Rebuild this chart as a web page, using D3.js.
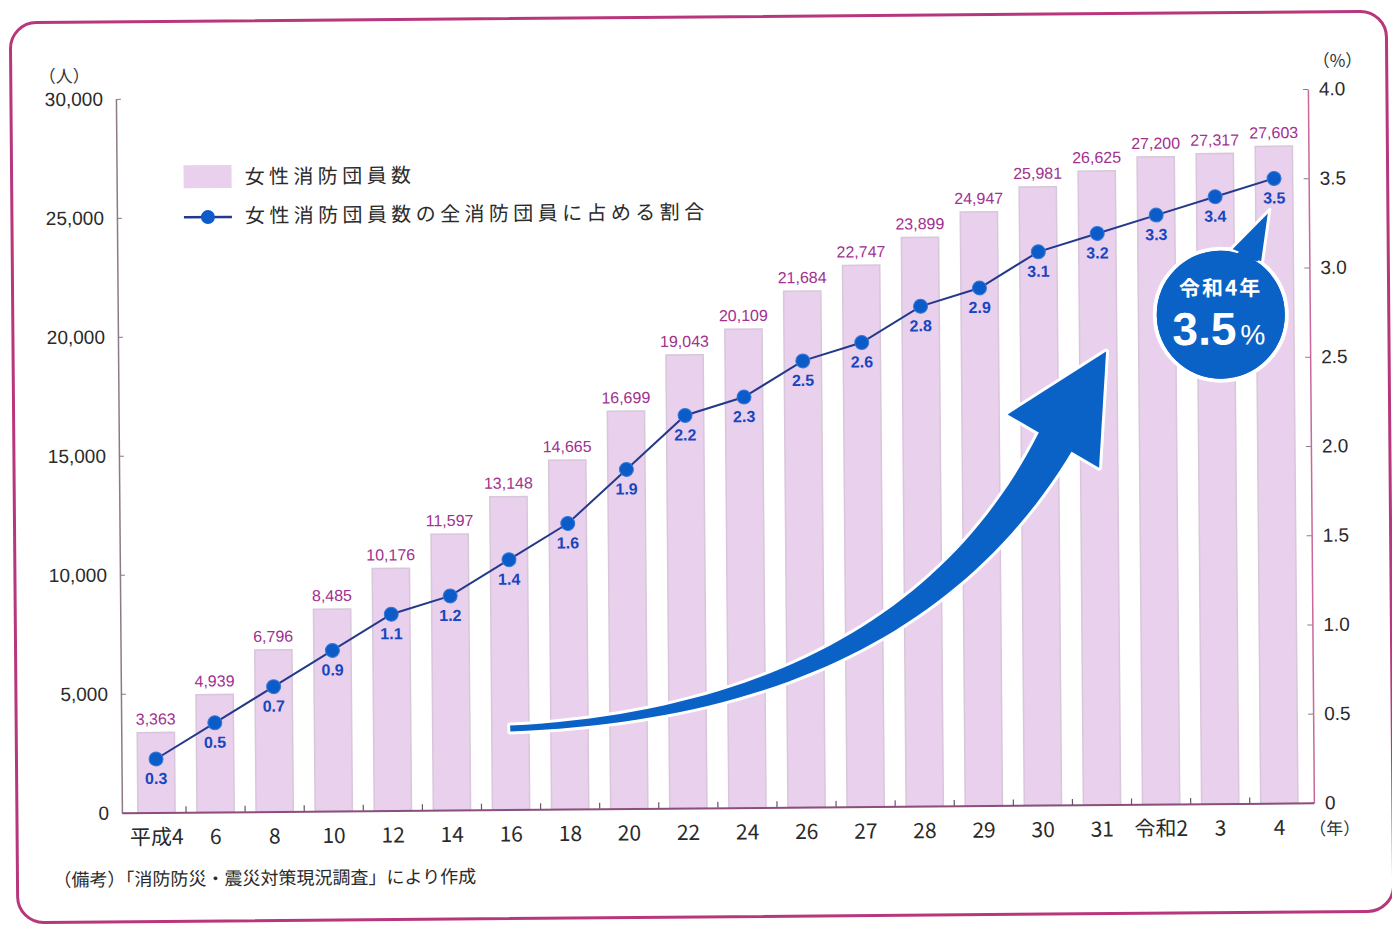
<!DOCTYPE html>
<html>
<head>
<meta charset="utf-8">
<script src="https://cdn.jsdelivr.net/npm/d3@7"></script>
<style>
  body { margin: 0; background: #fff; }
  svg text { font-family: "Liberation Sans", Arial, sans-serif; }
  .jp { font-family: "Noto Sans CJK JP", "Noto Sans", sans-serif; }
</style>
</head>
<body>
<svg id="chart" width="1392" height="925"></svg>
<script>
// data
var years = ["平成4", "6", "8", "10", "12", "14", "16", "18", "20", "22",
             "24", "26", "27", "28", "29", "30", "31", "令和2", "3", "4"];
var members = [3363, 4939, 6796, 8485, 10176, 11597, 13148, 14665, 16699, 19043,
               20109, 21684, 22747, 23899, 24947, 25981, 26625, 27200, 27317, 27603];
var shares = [0.3, 0.5, 0.7, 0.9, 1.1, 1.2, 1.4, 1.6, 1.9, 2.2,
              2.3, 2.5, 2.6, 2.8, 2.9, 3.1, 3.2, 3.3, 3.4, 3.5];
var leftTicks = [0, 5000, 10000, 15000, 20000, 25000, 30000];
var rightTicks = [0, 0.5, 1, 1.5, 2, 2.5, 3, 3.5, 4];
var legendLabels = ["女性消防団員数", "女性消防団員数の全消防団員に占める割合"];

var rows = years.map(function (y, i) {
    return { year: y, members: members[i], share: shares[i] };
});

var svg = d3.select("#chart")
  , plot = { left: 119, right: 1311, top: 94, bottom: 808 }
  , colors = {
        bar: "#e9d0ec", barEdge: "#d8c6da", value: "#a2318f",
        line: "#24398c", dot: "#0b5cc8", share: "#1746bf",
        blue: "#0b62c6", frame: "#b8377c"
    }
;

// the scan is tilted a little, draw everything inside a rotated group
var page = svg.append("g").attr("transform", "rotate(-0.48 700 462)");

page.append("rect")
    .attr("x", 14).attr("y", 17)
    .attr("width", 1376).attr("height", 900)
    .attr("rx", 26)
    .attr("fill", "none")
    .attr("stroke", colors.frame)
    .attr("stroke-width", 3);

var x = d3.scaleBand()
    .domain(years)
    .range([plot.left, plot.right])
    .paddingInner(0.37)
    .paddingOuter(0.27);

var yLeft = d3.scaleLinear().domain([0, 30000]).range([plot.bottom, plot.top]);
var yRight = d3.scaleLinear().domain([0, 4]).range([plot.bottom, plot.top]);

// bars
page.append("g")
  .selectAll("rect")
  .data(rows)
  .join("rect")
    .attr("x", function (d) { return x(d.year); })
    .attr("y", function (d) { return yLeft(d.members); })
    .attr("width", x.bandwidth())
    .attr("height", function (d) { return yLeft(0) - yLeft(d.members); })
    .attr("fill", colors.bar)
    .attr("stroke", colors.barEdge)
    .attr("stroke-width", 1.5);

page.append("g")
  .selectAll("text")
  .data(rows)
  .join("text")
    .attr("x", function (d) { return x(d.year) + x.bandwidth() / 2; })
    .attr("y", function (d) { return yLeft(d.members) - 8; })
    .attr("text-anchor", "middle")
    .attr("font-size", 16)
    .attr("fill", colors.value)
    .text(function (d) { return d3.format(",")(d.members); });

// axes
var fmtLeft = d3.format(",");
var leftAxis = page.append("g")
    .attr("transform", "translate(" + plot.left + ",0)")
    .call(d3.axisLeft(yLeft).tickValues(leftTicks).tickFormat(fmtLeft)
        .tickSizeInner(-5).tickSizeOuter(0).tickPadding(13));
leftAxis.select(".domain").attr("stroke", "#8d7a88").attr("stroke-width", 1.5);
leftAxis.selectAll(".tick line").attr("stroke", "#8d7a88");
leftAxis.selectAll(".tick text").attr("font-size", 19).attr("fill", "#2a2a2a")
    .attr("font-family", "Liberation Sans, Arial, sans-serif");

var rightAxis = page.append("g")
    .attr("transform", "translate(" + plot.right + ",0)")
    .call(d3.axisRight(yRight).tickValues(rightTicks)
        .tickFormat(function (d) { return d === 0 ? "0" : d3.format(".1f")(d); })
        .tickSizeInner(-5).tickSizeOuter(0).tickPadding(11));
rightAxis.select(".domain").attr("stroke", "#c9689d").attr("stroke-width", 1.5);
rightAxis.selectAll(".tick line").attr("stroke", "#8d7a88");
rightAxis.selectAll(".tick text").attr("font-size", 19).attr("fill", "#2a2a2a")
    .attr("font-family", "Liberation Sans, Arial, sans-serif");

var bottomAxis = page.append("g")
    .attr("transform", "translate(0," + plot.bottom + ")")
    .call(d3.axisBottom(x).tickSize(0).tickPadding(17));
bottomAxis.select(".domain").attr("stroke", "#8a4f7c").attr("stroke-width", 2);
bottomAxis.selectAll(".tick text")
    .attr("class", "jp")
    .attr("font-size", 21)
    .attr("fill", "#2a2a2a");

// small upward ticks between the bars
var gap = x.step() * x.paddingInner() / 2;
page.append("g")
  .selectAll("line")
  .data(years.slice(1))
  .join("line")
    .attr("x1", function (d) { return x(d) - gap; })
    .attr("x2", function (d) { return x(d) - gap; })
    .attr("y1", plot.bottom)
    .attr("y2", plot.bottom - 6)
    .attr("stroke", "#6e5268")
    .attr("stroke-width", 1.2);

// unit labels
page.append("text").attr("class", "jp").attr("x", 42).attr("y", 77)
    .attr("font-size", 17).attr("fill", "#333").text("（人）");
page.append("text").attr("class", "jp").attr("x", 1316).attr("y", 72)
    .attr("font-size", 17).attr("fill", "#333").text("（%）");
page.append("text").attr("class", "jp").attr("x", 1306).attr("y", 840)
    .attr("font-size", 17).attr("fill", "#333").text("（年）");

// decorative growth arrow (drawn under the line)
var arrow = { p0: [508, 727], c: [905, 712], p1: [1056, 444],
              head: [[1008, 417], [1107, 355], [1099, 471]] };
function quad(t) {
    var u = 1 - t;
    return [u * u * arrow.p0[0] + 2 * u * t * arrow.c[0] + t * t * arrow.p1[0],
            u * u * arrow.p0[1] + 2 * u * t * arrow.c[1] + t * t * arrow.p1[1]];
}
var upper = [], lower = [];
d3.range(0, 1.0001, 1 / 48).forEach(function (t) {
    var a = quad(Math.max(0, t - 0.01)), b = quad(Math.min(1, t + 0.01)), p = quad(t);
    var dx = b[0] - a[0], dy = b[1] - a[1], len = Math.sqrt(dx * dx + dy * dy);
    var w = 3 + 16 * Math.pow(t, 1.4);
    upper.push([p[0] + dy / len * w, p[1] - dx / len * w]);
    lower.push([p[0] - dy / len * w, p[1] + dx / len * w]);
});
var shaft = upper.concat(lower.reverse());
var arrowG = page.append("g");
[shaft, arrow.head].forEach(function (pts) {
    arrowG.append("path").attr("d", d3.line()(pts) + "Z")
        .attr("fill", "#fff").attr("stroke", "#fff")
        .attr("stroke-width", 6).attr("stroke-linejoin", "round");
});
[shaft, arrow.head].forEach(function (pts) {
    arrowG.append("path").attr("d", d3.line()(pts) + "Z")
        .attr("fill", colors.blue);
});

// share line + markers
page.append("path")
    .datum(rows)
    .attr("fill", "none")
    .attr("stroke", colors.line)
    .attr("stroke-width", 2)
    .attr("d", d3.line()
        .x(function (d) { return x(d.year) + x.bandwidth() / 2; })
        .y(function (d) { return yRight(d.share); }));

page.append("g")
  .selectAll("circle")
  .data(rows)
  .join("circle")
    .attr("cx", function (d) { return x(d.year) + x.bandwidth() / 2; })
    .attr("cy", function (d) { return yRight(d.share); })
    .attr("r", 7)
    .attr("fill", colors.dot)
    .attr("stroke", "#3a78d8")
    .attr("stroke-width", 1);

page.append("g")
  .selectAll("text")
  .data(rows)
  .join("text")
    .attr("x", function (d) { return x(d.year) + x.bandwidth() / 2; })
    .attr("y", function (d) { return yRight(d.share) + 25; })
    .attr("text-anchor", "middle")
    .attr("font-size", 16)
    .attr("font-weight", "bold")
    .attr("fill", colors.share)
    .text(function (d) { return d3.format(".1f")(d.share); });

// legend
var legend = page.append("g").attr("class", "jp");
legend.append("rect").attr("x", 186).attr("y", 161)
    .attr("width", 48).attr("height", 23).attr("fill", colors.bar);
legend.append("line").attr("x1", 186).attr("x2", 234)
    .attr("y1", 213).attr("y2", 213)
    .attr("stroke", colors.line).attr("stroke-width", 2.5);
legend.append("circle").attr("cx", 210).attr("cy", 213).attr("r", 7)
    .attr("fill", colors.dot);
legend.selectAll("text")
  .data(legendLabels)
  .join("text")
    .attr("class", "jp")
    .attr("x", 247)
    .attr("y", function (d, i) { return 180 + i * 39; })
    .attr("font-size", 20)
    .attr("fill", "#2a2a2a")
    .style("letter-spacing", "4.4px")
    .text(function (d) { return d; });

// speech bubble for the latest value
var last = rows[rows.length - 1];
var bubble = page.append("g");
var tail = [[1232, 254], [1272, 214], [1264, 268]];
bubble.append("circle").attr("cx", 1222).attr("cy", 319).attr("r", 66)
    .attr("fill", colors.blue).attr("stroke", "#fff").attr("stroke-width", 4);
bubble.append("path").attr("d", d3.line()(tail) + "Z")
    .attr("fill", colors.blue).attr("stroke", "#fff").attr("stroke-width", 3)
    .attr("stroke-linejoin", "round");
bubble.append("circle").attr("cx", 1222).attr("cy", 319).attr("r", 64)
    .attr("fill", colors.blue);
bubble.append("path").attr("d", d3.line()([[1236, 262], [1269, 221], [1260, 266]]) + "Z")
    .attr("fill", colors.blue);
bubble.append("text").attr("class", "jp")
    .attr("x", 1222).attr("y", 300)
    .attr("text-anchor", "middle")
    .attr("font-size", 21).attr("font-weight", "bold")
    .attr("fill", "#fff")
    .style("letter-spacing", "2px")
    .text("令和4年");
var big = bubble.append("text")
    .attr("x", 1220).attr("y", 349)
    .attr("text-anchor", "middle")
    .attr("font-weight", "bold")
    .attr("fill", "#fff");
big.append("tspan").attr("font-size", 46).text(d3.format(".1f")(last.share));
big.append("tspan").attr("font-size", 28).attr("font-weight", "normal")
    .attr("dx", 4).text("%");

// source note
page.append("text").attr("class", "jp")
    .attr("x", 50).attr("y", 881)
    .attr("font-size", 18).attr("fill", "#2a2a2a")
    .text("（備考）「消防防災・震災対策現況調査」により作成");
</script>
</body>
</html>
